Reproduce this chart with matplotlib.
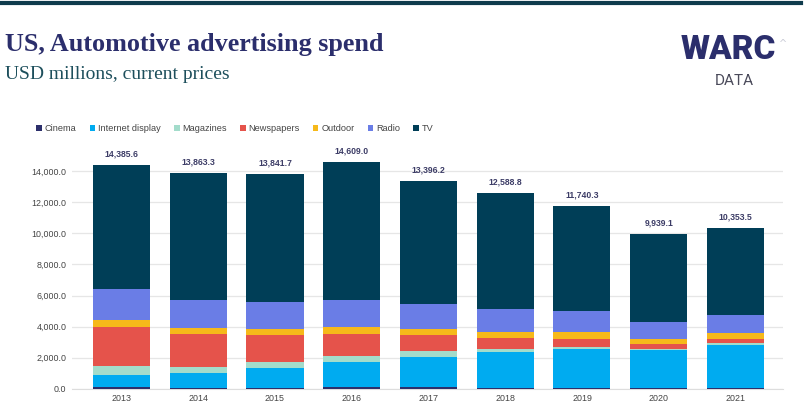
import numpy as np
import matplotlib
matplotlib.use("Agg")
import matplotlib.pyplot as plt
from matplotlib.lines import Line2D

# ─── Data (USD millions) ───────────────────────────────────────────
years = ["2013", "2014", "2015", "2016", "2017", "2018", "2019", "2020", "2021"]
totals = [14385.6, 13863.3, 13841.7, 14609.0, 13396.2, 12588.8, 11740.3, 9939.1, 10353.5]

cinema     = [130, 60, 50, 100, 130, 70, 60, 50, 40]
internet   = [730, 930, 1283, 1619, 1930, 2293, 2477, 2423, 2793]
magazines  = [600, 387, 386, 367, 347, 193, 167, 103, 110]
newspapers = [2530, 2125, 1719, 1456, 1030, 689, 516, 283, 257]
outdoor    = [430, 406, 425, 450, 425, 406, 412, 341, 387]
radio      = [1976, 1783, 1720, 1739, 1591, 1481, 1371, 1095, 1139]
# TV is whatever is left to reach the labelled total
tv = [t - (c + i + m + n + o + r) for t, c, i, m, n, o, r in
      zip(totals, cinema, internet, magazines, newspapers, outdoor, radio)]

series = [
    ("Cinema", cinema, "#2c2f6b"),
    ("Internet display", internet, "#00abf0"),
    ("Magazines", magazines, "#a3dccb"),
    ("Newspapers", newspapers, "#e5534b"),
    ("Outdoor", outdoor, "#f6b91a"),
    ("Radio", radio, "#6a7de6"),
    ("TV", tv, "#003e57"),
]

# ─── Figure ────────────────────────────────────────────────────────
fig = plt.figure(figsize=(8.11, 4.20), dpi=100)
fig.patch.set_facecolor("white")

# top rule
fig.add_artist(Line2D([0.0, 0.988], [0.992, 0.992], color="#0f3b4c", lw=3.0))

fig.text(0.006, 0.895, "US, Automotive advertising spend", family="Liberation Serif",
         weight="bold", fontsize=18.8, color="#2b2e6c", va="center")
fig.text(0.006, 0.822, "USD millions, current prices", family="Liberation Serif",
         fontsize=14, color="#1d4f5c", va="center")

# WARC logo as text
fig.text(0.898, 0.880, "WARC", family="Roboto", weight="black", fontsize=24,
         color="#2b2e6c", ha="center", va="center")
fig.text(0.906, 0.808, "DATA", family="Roboto", fontsize=11, color="#4a4a5a",
         ha="center", va="center")
fig.text(0.9655, 0.895, "^", family="DejaVu Sans", fontsize=7, color="#c9cbd6",
         ha="center", va="center")

ax = fig.add_axes([0.0888, 0.0745, 0.8767, 0.5917])
x = np.arange(len(years))
bottom = np.zeros(len(years))
for name, vals, col in series:
    ax.bar(x, vals, bottom=bottom, width=0.743, color=col, label=name, zorder=3)
    bottom += np.array(vals)

for xi, t in zip(x, totals):
    ax.text(xi, t + 420, f"{t:,.1f}", ha="center", va="bottom", fontsize=6.2,
            weight="bold", color="#3c3c66", family="Liberation Sans")

ax.set_xlim(-0.645, 8.62)
ax.set_ylim(0, 16000)
ax.set_yticks(np.arange(0, 14001, 2000))
ax.set_yticklabels([f"{v:,.1f}" for v in np.arange(0, 14001, 2000)])
ax.set_xticks(x)
ax.set_xticklabels(years)
ax.tick_params(axis="both", length=0, labelsize=6.4, labelcolor="#444444")
ax.tick_params(axis="x", pad=4)
ax.tick_params(axis="y", pad=4)
for lab in ax.get_xticklabels() + ax.get_yticklabels():
    lab.set_family("Liberation Sans")
ax.grid(axis="y", color="#e6e6e6", lw=0.9, zorder=0)
for s in ["top", "right", "left"]:
    ax.spines[s].set_visible(False)
ax.spines["bottom"].set_color("#dddddd")

handles, labels = ax.get_legend_handles_labels()
leg = fig.legend(handles, labels, loc="center left", bbox_to_anchor=(0.045, 0.694),
                 ncol=7, frameon=False, handlelength=0.6,
                 handleheight=0.6, handletextpad=0.3, columnspacing=1.45,
                 borderpad=0, borderaxespad=0,
                 prop={"family": "Liberation Sans", "size": 6.6})
for txt in leg.get_texts():
    txt.set_color("#444444")

fig.savefig("out.png", dpi=100)
